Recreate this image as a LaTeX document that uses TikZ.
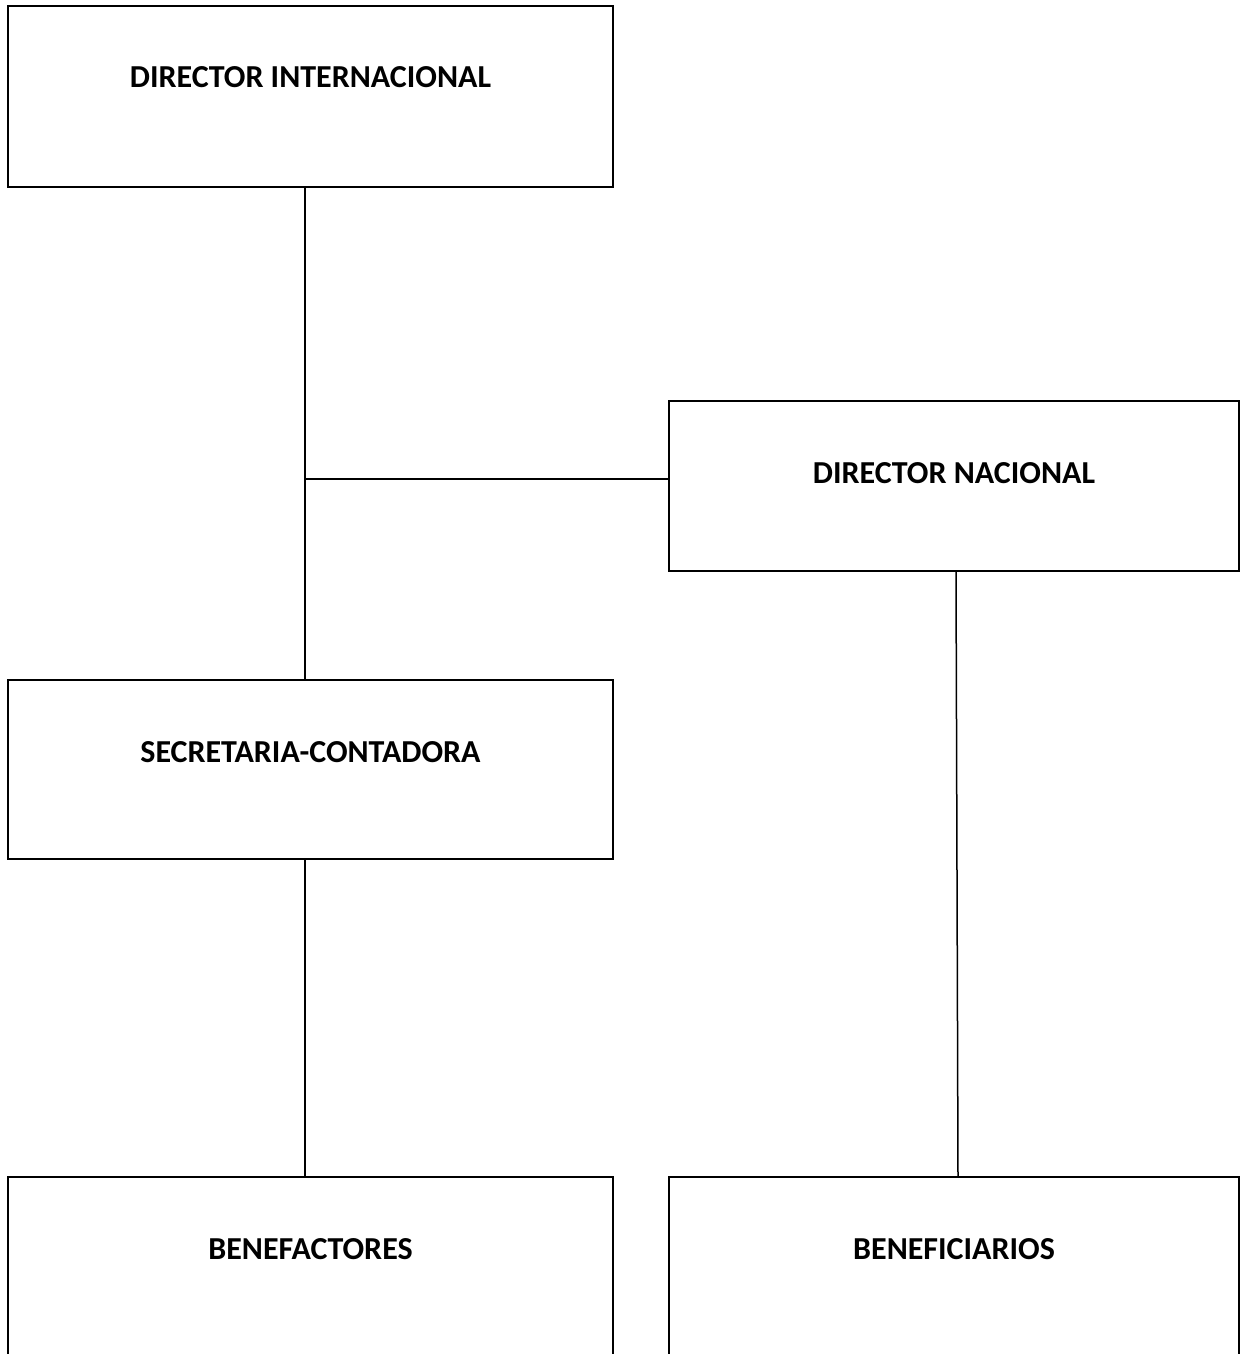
\documentclass[tikz,border=0pt]{standalone}
\usepackage{fontspec}
\setmainfont{Carlito}
\usetikzlibrary{positioning}

\begin{document}
\begin{tikzpicture}[%%
  x=0.5pt,y=-0.5pt,%%
  boxStyle/.style={draw,line width=1pt,inner sep=0pt,minimum width=302.5pt},%%
  wideStyle/.style={boxStyle,minimum width=285pt},%%
  titleStyle/.style={anchor=base,inner sep=0pt,font=\fontsize{16}{19}\selectfont\bfseries},%%
  lineStyle/.style={-,line width=0.75pt}
]
%%
%%
\clip (0,0) rectangle (1240,1354);
\useasboundingbox (0,0) rectangle (1240,1354);
%%
%% The boxes.
\node[boxStyle,minimum height=90.5pt] (dirint) at (310.5,96.5) {};
\node[wideStyle,minimum height=85pt] (dirnac) at (954,486) {};
\node[boxStyle,minimum height=89.5pt] (secr) at (310.5,769.5) {};
\node[boxStyle,minimum height=91.5pt] (benef) at (310.5,1268.5) {};
\node[wideStyle,minimum height=91.5pt] (benefi) at (954,1268.5) {};
%%
%% Their titles.
\node[titleStyle] (dirintText) at ([yshift=-41.5pt]dirint.north) {DIRECTOR INTERNACIONAL};
\node[titleStyle] (dirnacText) at ([yshift=-41.5pt]dirnac.north) {DIRECTOR NACIONAL};
\node[titleStyle] (secrText) at ([yshift=-41.5pt]secr.north) {SECRETARIA-CONTADORA};
\node[titleStyle] (benefText) at ([yshift=-41.5pt]benef.north) {BENEFACTORES};
\node[titleStyle] (benefiText) at ([yshift=-41.5pt]benefi.north) {BENEFICIARIOS};
%%
%% The connectors.
\coordinate (junc) at (305,479);
\draw[lineStyle] (junc |- dirint.south) -- (junc |- secr.north);
\draw[lineStyle] (junc) -- (junc -| dirnac.west);
\draw[lineStyle] (junc |- secr.south) -- (junc |- benef.north);
\draw[lineStyle] ([xshift=1pt]dirnac.south) -- ([xshift=2pt]benefi.north);
\end{tikzpicture}
\end{document}
